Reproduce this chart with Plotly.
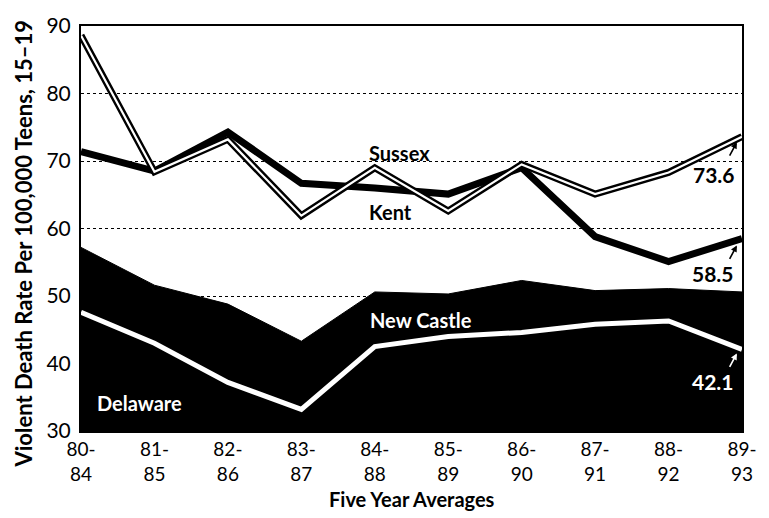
import plotly.graph_objects as go

# Five-year averaging windows
periods = ["80-84", "81-85", "82-86", "83-87", "84-88",
           "85-89", "86-90", "87-91", "88-92", "89-93"]
tick_labels = [p.replace("-", "-<br>") for p in periods]

# Violent death rate per 100,000 teens aged 15-19
sussex = [88.6, 68.4, 73.2, 61.9, 69.0, 62.6, 69.5, 65.1, 68.3, 73.6]
kent = [71.4, 68.5, 74.3, 66.7, 66.0, 65.1, 69.0, 58.8, 55.1, 58.5]
new_castle = [57.2, 51.6, 48.8, 43.3, 50.6, 50.3, 52.3, 50.8, 51.1, 50.6]
delaware = [47.6, 43.0, 37.2, 33.2, 42.5, 44.0, 44.6, 45.8, 46.3, 42.1]

x = list(range(len(periods)))
FONT = "Lato"

fig = go.Figure()

# New Castle as a solid black band from the axis floor
fig.add_trace(go.Scatter(x=x, y=new_castle, mode="lines", fill="tozeroy",
                         fillcolor="black", line=dict(color="black", width=1),
                         hoverinfo="skip", showlegend=False))
# Delaware as a white line inside the band
fig.add_trace(go.Scatter(x=x, y=delaware, mode="lines",
                         line=dict(color="white", width=5),
                         showlegend=False))
# Kent: heavy black line
fig.add_trace(go.Scatter(x=x, y=kent, mode="lines",
                         line=dict(color="black", width=7),
                         showlegend=False))
# Sussex: outlined (hollow) line
fig.add_trace(go.Scatter(x=x, y=sussex, mode="lines",
                         line=dict(color="black", width=7),
                         showlegend=False))
fig.add_trace(go.Scatter(x=x, y=sussex, mode="lines",
                         line=dict(color="white", width=2.2),
                         showlegend=False))

label_font = dict(family=FONT, size=20, color="black")
value_font = dict(family=FONT, size=21, color="black")
annotations = [
    dict(x=4.34, y=71.2, text="<b>Sussex</b>", font=label_font),
    dict(x=4.21, y=62.5, text="<b>Kent</b>", font=label_font),
    dict(x=4.63, y=46.5, text="<b>New Castle</b>", font=dict(label_font, color="white")),
    dict(x=0.80, y=34.1, text="<b>Delaware</b>", font=dict(label_font, color="white")),
    dict(x=8.62, y=68.0, text="<b>%.1f</b>" % sussex[-1], font=value_font),
    dict(x=8.61, y=53.4, text="<b>%.1f</b>" % kent[-1], font=value_font),
    dict(x=8.61, y=37.3, text="<b>%.1f</b>" % delaware[-1], font=dict(value_font, color="white")),
]
for a in annotations:
    a.update(xref="x", yref="y", showarrow=False)

# Small pointer arrows from the end values to their lines
for ya, col in [(72.8, "black"), (57.5, "black"), (41.5, "white")]:
    annotations.append(dict(x=8.93, y=ya, xref="x", yref="y", text="",
                            showarrow=True, ax=-8, ay=15, arrowhead=2,
                            arrowsize=0.8, arrowwidth=1.6, arrowcolor=col))

# Axis titles
annotations.append(dict(xref="paper", yref="paper", x=-0.087, y=0.464,
                        xanchor="center", yanchor="middle", textangle=-90,
                        text="<b>Violent Death Rate Per 100,000 Teens, 15–19</b>",
                        font=dict(family=FONT, size=22, color="black"),
                        showarrow=False))
annotations.append(dict(xref="paper", yref="paper", x=0.5, y=-0.167,
                        xanchor="center", yanchor="middle",
                        text="<b>Five Year Averages</b>",
                        font=dict(family=FONT, size=20, color="black"),
                        showarrow=False))

fig.update_layout(
    width=769, height=518,
    margin=dict(l=81, r=23, t=19, b=87),
    paper_bgcolor="white", plot_bgcolor="white",
    annotations=annotations,
    font=dict(family=FONT, color="black"),
)
fig.update_xaxes(range=[0, 9], tickvals=x, ticktext=tick_labels,
                 tickfont=dict(family=FONT, size=19, color="black"),
                 showgrid=False, zeroline=False,
                 showline=True, linecolor="black", linewidth=2, mirror=True,
                 ticks="")
fig.update_yaxes(range=[30, 90], tickvals=[30, 40, 50, 60, 70, 80, 90],
                 tickfont=dict(family=FONT, size=21, color="black"),
                 showgrid=True, gridcolor="black", griddash="dot", gridwidth=1,
                 zeroline=False,
                 showline=True, linecolor="black", linewidth=2, mirror=True,
                 ticks="", ticklabelstandoff=4)

fig.write_html("out.html")
